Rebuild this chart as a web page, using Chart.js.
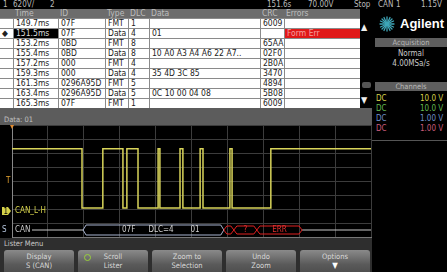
<!DOCTYPE html>
<html>
<head>
<meta charset="utf-8">
<script src="https://cdn.jsdelivr.net/npm/chart.js@4.4.1/dist/chart.umd.min.js"></script>
<style>
html, body { margin: 0; padding: 0; background: #000; }
body {
  width: 447px; height: 272px; position: relative; overflow: hidden;
  font-family: "Liberation Sans Narrow", "DejaVu Sans Condensed", "Liberation Sans", sans-serif;
  font-size: 8px; color: #ccc;
}
.abs { position: absolute; white-space: nowrap; }
#status span { position: absolute; top: 0; line-height: 10px; color: #bbb; font-size: 8px; }
.cell { position: absolute; overflow: hidden; white-space: nowrap; line-height: 9px; padding-left: 2px; box-sizing: border-box; color: #222; font-size: 8.5px; }
.hdr { background: #6c6c6c; color: #bdbdbd; line-height: 8px; }
.bar { background: #5e5e5e; color: #b8b8b8; text-align: center; font-size: 7.5px; line-height: 9px; }
.btn {
  position: absolute; top: 250px; height: 24px; width: 70px; border-radius: 3px;
  background: linear-gradient(#8a8a8a, #5a5a5a 60%, #4c4c4c);
  color: #d8d8d8; font-size: 7.5px; line-height: 9px; text-align: center; padding-top: 2px; box-sizing: border-box;
}
</style>
</head>
<body>

<!-- barre d'état -->
<div class="abs" id="status" style="left:0;top:0;width:447px;height:10px;background:#000;"></div>

<!-- lister -->
<div class="abs" id="lister" style="left:0;top:9px;width:360px;height:99px;background:#8a8a8a;"></div>
<div class="abs" style="left:360px;top:9px;width:12px;height:99px;background:#000;"></div>
<div class="abs" style="left:361px;top:22px;color:#eee;font-size:9px;">&#9650;</div>
<div class="abs" style="left:362px;top:82px;width:9px;height:6px;background:#555;border-radius:2px;"></div>
<div class="abs" style="left:361px;top:95px;color:#eee;font-size:9px;">&#9660;</div>

<!-- panneau de droite -->
<svg class="abs" style="left:379px;top:16px;" width="16" height="16" viewBox="-8 -8 16 16">
  <g stroke="#3fa6b8" stroke-width="1.3" stroke-linecap="round">
    <line x1="0" y1="-7" x2="0" y2="7"/><line x1="-7" y1="0" x2="7" y2="0"/>
    <line x1="-5" y1="-5" x2="5" y2="5"/><line x1="-5" y1="5" x2="5" y2="-5"/>
    <line x1="-3" y1="-6.5" x2="3" y2="6.5"/><line x1="-6.5" y1="-3" x2="6.5" y2="3"/>
    <line x1="3" y1="-6.5" x2="-3" y2="6.5"/><line x1="6.5" y1="-3" x2="-6.5" y2="3"/>
  </g>
</svg>
<div class="abs" style="left:400px;top:16px;color:#fff;font-family:'Liberation Sans',sans-serif;font-weight:bold;font-size:13px;line-height:15px;">Agilent</div>
<div class="abs bar" style="left:375px;top:38px;width:72px;height:9px;">Acquisition</div>
<div class="abs" style="left:375px;top:49px;width:72px;text-align:center;color:#c8c8c8;">Normal</div>
<div class="abs" style="left:375px;top:59px;width:72px;text-align:center;color:#c8c8c8;">4.00MSa/s</div>
<div class="abs bar" style="left:375px;top:82px;width:72px;height:9px;">Channels</div>
<div class="abs" id="channels" style="left:372px;top:94px;width:75px;height:40px;"></div>
<div class="abs" style="left:372px;top:140px;width:75px;height:1px;background:#555;"></div>

<!-- barre Data -->
<div class="abs" style="left:0;top:108px;width:372px;height:17px;background:#5c5c5c;"></div>
<div class="abs" style="left:4px;top:115px;color:#c0c0c0;font-size:7.5px;">Data: 01</div>

<!-- graticule -->
<div class="abs" style="left:0;top:124px;width:372px;height:114px;">
  <canvas id="scope" width="372" height="114"></canvas>
</div>

<!-- menu -->
<div class="abs" style="left:0;top:238px;width:372px;height:34px;background:#2e2e2e;"></div>
<div class="abs" style="left:4px;top:239px;color:#c8c8c8;font-size:7.5px;">Lister Menu</div>
<div class="btn" style="left:4px;">Display<br>S (CAN)</div>
<div class="btn" style="left:78px;">Scroll<br>Lister</div>
<div class="abs" style="left:84px;top:254px;width:5px;height:5px;border:1.5px solid #9ad13a;border-radius:50%;"></div>
<div class="btn" style="left:152px;">Zoom to<br>Selection</div>
<div class="btn" style="left:226px;">Undo<br>Zoom</div>
<div class="btn" style="left:300px;">Options<br><span style="font-size:8px;color:#fff;">&#9660;</span></div>

<script>
// status bar texts
const statusTexts = ["1", "620V/", "2", "151.6s", "70.00V", "Stop", "CAN", "1", "1.15V"];
const statusX = [3, 13, 50, 267, 308, 354, 378, 396, 421];

// lister table
const colNames = ["", "Time", "ID", "Type", "DLC", "Data", "CRC", "Errors"];
const colX = [0, 13, 58, 105, 128, 149, 260, 284, 360];
const times = ["149.7ms", "151.5ms", "153.2ms", "155.4ms", "157.2ms", "159.3ms", "161.3ms", "163.4ms", "165.3ms"];
const ids = ["07F", "07F", "0BD", "0BD", "000", "000", "0296A95D", "0296A95D", "07F"];
const types = ["FMT", "Data", "FMT", "Data", "FMT", "Data", "FMT", "Data", "FMT"];
const dlcs = ["1", "4", "8", "8", "4", "4", "5", "5", "1"];
const datas = ["", "01", "", "10 A0 A3 A4 A6 22 A7..", "", "35 4D 3C 85", "", "0C 10 00 04 08", ""];
const crcs = ["6009", "", "65AA", "02F0", "2B0A", "3470", "4894", "5B08", "6009"];
const errors = ["", "Form Err", "", "", "", "", "", "", ""];
const selectedRow = 1;

// channels panel
const chCoupling = ["DC", "DC", "DC", "DC"];
const chScale = ["10.0 V", "10.0 V", "1.00 V", "1.00 V"];
const chColors = ["#d6d24a", "#62b850", "#6f8fc8", "#c85a7a"];

// waveform CAN_L-H: edge times (div) and level after each edge (div)
const edgeTimes = [0, 1.95, 2.53, 3.09, 3.20, 3.51, 4.07, 4.12, 4.68, 4.76, 5.24, 5.32, 6.07, 6.13, 7.21, 10];
const edgeLevels = [6.3, 2.07, 6.3, 2.07, 6.3, 2.07, 6.3, 2.07, 6.3, 2.07, 6.3, 2.07, 6.3, 2.07, 6.3, 6.3];
const groundLevel = 1.86;
const triggerLevel = 4.0;

// bus decode
const busRow = 0.5;
const busFrame = [1.98, 5.9];
const busLabels = ["07F", "DLC=4", "01"];
const busLabelTimes = [3.25, 4.15, 5.1];
const busErrEdges = [5.9, 6.18, 6.82, 8.08];
const busErrLabels = ["", "?", "ERR"];

const status = document.getElementById("status");
statusTexts.forEach((t, i) => {
  status.innerHTML += `<span style="left:${statusX[i]}px">${t}</span>`;
});

function buildLister() {
  const el = document.getElementById("lister");
  let html = "";
  // header
  for (let j = 0; j < colNames.length; j++) {
    const w = colX[j + 1] - colX[j];
    html += `<div class="cell hdr" style="left:${colX[j]}px;top:0;width:${w}px;height:9px;line-height:9px;">${colNames[j]}</div>`;
  }
  times.forEach((t, i) => {
    const row = ["", t, ids[i], types[i], dlcs[i], datas[i], crcs[i], errors[i]];
    const top = 9 + i * 10 + 1;
    row.forEach((v, j) => {
      const w = colX[j + 1] - colX[j] - 1;
      let bg = "#fff", fg = "#222";
      if (i === selectedRow && j === 1) { bg = "#000"; fg = "#ddd"; }
      if (errors[i] && j === 7) { bg = "#e01818"; fg = "#f4a0a0"; }
      if (i === selectedRow && j === 0) v = "&#9670;";
      html += `<div class="cell" style="left:${colX[j] + (j ? 1 : 0)}px;top:${top}px;width:${w + (j ? 0 : 1)}px;height:9px;background:${bg};color:${fg};">${v}</div>`;
    });
  });
  el.innerHTML = html;
}
buildLister();

const chEl = document.getElementById("channels");
chCoupling.forEach((c, i) => {
  chEl.innerHTML += `<div class="abs" style="left:4px;top:${i * 10}px;color:${chColors[i]}">${c}</div>` +
    `<div class="abs" style="left:48px;top:${i * 10}px;color:${chColors[i]}">${chScale[i]}</div>`;
});

// markers, bus decode row
const scopePlugin = {
  id: "scopeExtras",
  afterDatasetsDraw(chart) {
    const { ctx, chartArea, scales } = chart;
    const x = scales.x, y = scales.y;
    ctx.save();
    ctx.font = '8px "Liberation Sans Narrow", "DejaVu Sans Condensed", sans-serif';
    ctx.textBaseline = "middle";

    // channel 1 ground marker + label
    const gy = y.getPixelForValue(groundLevel);
    ctx.fillStyle = chColors[0];
    ctx.beginPath();
    ctx.moveTo(2, gy - 4); ctx.lineTo(8, gy - 4); ctx.lineTo(11, gy); ctx.lineTo(8, gy + 4); ctx.lineTo(2, gy + 4);
    ctx.closePath(); ctx.fill();
    ctx.fillStyle = "#000";
    ctx.fillText("1", 3.5, gy + 0.5);
    ctx.fillStyle = chColors[0];
    ctx.fillText("CAN_L-H", chartArea.left + 3, gy);

    // trigger level marker
    const ty = y.getPixelForValue(triggerLevel);
    ctx.fillStyle = "#e0a030";
    ctx.fillText("T", 6, ty);

    // bus label
    const by = y.getPixelForValue(busRow);
    ctx.fillStyle = "#b8c8e0";
    ctx.fillText("S", 2, by);
    ctx.fillStyle = "#c8c8c8";
    ctx.fillText("CAN", chartArea.left + 3, by);

    // idle lines
    ctx.strokeStyle = "#c8c8c8";
    ctx.lineWidth = 1;
    ctx.beginPath();
    ctx.moveTo(chartArea.left + 20, by); ctx.lineTo(x.getPixelForValue(busFrame[0]), by);
    ctx.moveTo(x.getPixelForValue(busErrEdges[busErrEdges.length - 1]), by); ctx.lineTo(chartArea.right, by);
    ctx.stroke();

    const hex = (x1, x2, h) => {
      ctx.beginPath();
      ctx.moveTo(x1, by);
      ctx.lineTo(x1 + 3, by - h); ctx.lineTo(x2 - 3, by - h); ctx.lineTo(x2, by);
      ctx.lineTo(x2 - 3, by + h); ctx.lineTo(x1 + 3, by + h);
      ctx.closePath(); ctx.stroke();
    };

    // frame
    ctx.strokeStyle = "#a8b4d0";
    hex(x.getPixelForValue(busFrame[0]), x.getPixelForValue(busFrame[1]), 5);
    ctx.fillStyle = "#d0d0d0";
    ctx.textAlign = "center";
    busLabels.forEach((l, i) => ctx.fillText(l, x.getPixelForValue(busLabelTimes[i]), by));

    // error fields
    ctx.strokeStyle = "#e02020";
    ctx.fillStyle = "#e03030";
    for (let i = 0; i < busErrLabels.length; i++) {
      const x1 = x.getPixelForValue(busErrEdges[i]), x2 = x.getPixelForValue(busErrEdges[i + 1]);
      hex(x1, x2, 4);
      ctx.fillText(busErrLabels[i], (x1 + x2) / 2, by);
    }

    // trigger position marker
    ctx.fillStyle = "#e08a30";
    ctx.beginPath();
    ctx.moveTo(chartArea.left - 2, chartArea.top); ctx.lineTo(chartArea.left + 2, chartArea.top);
    ctx.lineTo(chartArea.left, chartArea.top + 4); ctx.closePath(); ctx.fill();
    ctx.restore();
  }
};

new Chart(document.getElementById("scope"), {
  type: "line",
  data: {
    datasets: [{
      label: "CAN_L-H",
      data: edgeTimes.map((t, i) => ({ x: t, y: edgeLevels[i] })),
      stepped: "before",
      borderColor: "#d8d45a",
      borderWidth: 1.5,
      pointRadius: 0,
      fill: false,
    }],
  },
  options: {
    responsive: false,
    animation: false,
    events: [],
    layout: { padding: { left: 12, right: 1, top: 1, bottom: 1 } },
    plugins: { legend: { display: false }, tooltip: { enabled: false } },
    scales: {
      x: {
        type: "linear", min: 0, max: 10,
        ticks: { display: false, stepSize: 1 },
        grid: { color: "#3c3c3c", tickLength: 0 },
        border: { color: "#777" },
      },
      y: {
        min: 0, max: 8,
        ticks: { display: false, stepSize: 1 },
        grid: { color: "#3c3c3c", tickLength: 0 },
        border: { color: "#888" },
      },
    },
  },
  plugins: [scopePlugin],
});
</script>
</body>
</html>
